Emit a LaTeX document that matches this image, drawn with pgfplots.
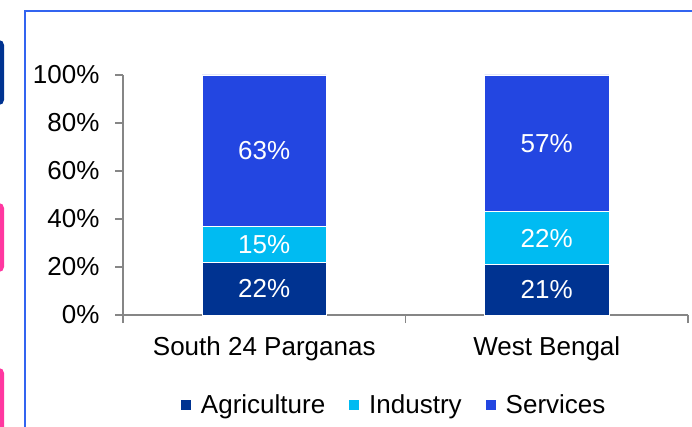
\documentclass[border=0pt]{standalone}
\usepackage{pgfplots}
\pgfplotsset{compat=1.18}
\usepackage{fontspec}
\setmainfont{Liberation Sans}
\definecolor{agri}{RGB}{0,51,145}
\definecolor{indu}{RGB}{0,187,242}
\definecolor{serv}{RGB}{35,70,225}
\definecolor{axgray}{RGB}{134,134,134}
\definecolor{frameblue}{RGB}{50,100,240}
\definecolor{pinkdeco}{RGB}{255,55,160}
\begin{document}
\begin{tikzpicture}
\useasboundingbox (0bp,0bp) rectangle (692bp,427bp);
% slide decorations (cropped fragments)
\draw[frameblue, line width=1.6bp] (25bp,0bp) -- (25bp,416bp) -- (700bp,416bp);
\fill[agri, rounded corners=5bp] (-20bp,322bp) rectangle (4bp,387bp);
\fill[pinkdeco, rounded corners=5bp] (-20bp,155bp) rectangle (4bp,224bp);
\fill[pinkdeco, rounded corners=5bp] (-20bp,-20bp) rectangle (4bp,59bp);
\begin{axis}[
  at={(123bp,112bp)}, anchor=south west,
  scale only axis, width=565bp, height=240bp,
  xmin=-0.5, xmax=1.5, ymin=0, ymax=100,
  ybar stacked, bar width=0.44,
  axis lines=left, axis line style={-, axgray, line width=1.3bp},
  every tick/.style={axgray, line width=1.3bp},
  tick align=outside, major tick length=8bp,
  ytick={0,20,40,60,80,100},
  yticklabels={0\%,20\%,40\%,60\%,80\%,100\%},
  xtick={-0.5,0.5,1.5}, xticklabels={},
  extra x ticks={0,1}, extra x tick labels={South 24 Parganas,West Bengal},
  extra x tick style={major tick length=0pt, xticklabel style={yshift=-18bp}},
  ticklabel style={font=\fontsize{26bp}{30bp}\selectfont, text=black},
  yticklabel style={xshift=-12bp},
  clip=false,
  legend columns=3,
  legend style={draw=none, fill=none, at={(0.48,-0.375)}, anchor=center,
    font=\fontsize{26bp}{30bp}\selectfont,
    /tikz/every even column/.append style={column sep=22bp},
    /tikz/every odd column/.append style={column sep=8bp},
    inner sep=0pt},
  legend image code/.code={\fill[#1,draw=none] (0bp,-5bp) rectangle (10bp,5bp);},
]
\addplot[fill=agri, draw=white, line width=0.8bp] coordinates {(0,22) (1,21)};
\addplot[fill=indu, draw=white, line width=0.8bp] coordinates {(0,15) (1,22)};
\addplot[fill=serv, draw=white, line width=0.8bp] coordinates {(0,63) (1,57)};
\legend{Agriculture,Industry,Services}
\end{axis}
\begin{axis}[
  at={(123bp,112bp)}, anchor=south west,
  scale only axis, width=565bp, height=240bp,
  xmin=-0.5, xmax=1.5, ymin=0, ymax=100,
  axis lines=none, clip=false,
]
\addplot[only marks, mark=none, nodes near coords, point meta=explicit symbolic,
  nodes near coords align=center,
  every node near coord/.append style={text=white, font=\fontsize{26bp}{30bp}\selectfont, anchor=center}]
  coordinates {(0,11)[22\%] (0,29.5)[15\%] (0,68.5)[63\%]
               (1,10.5)[21\%] (1,32)[22\%] (1,71.5)[57\%]};
\end{axis}
\end{tikzpicture}
\end{document}
